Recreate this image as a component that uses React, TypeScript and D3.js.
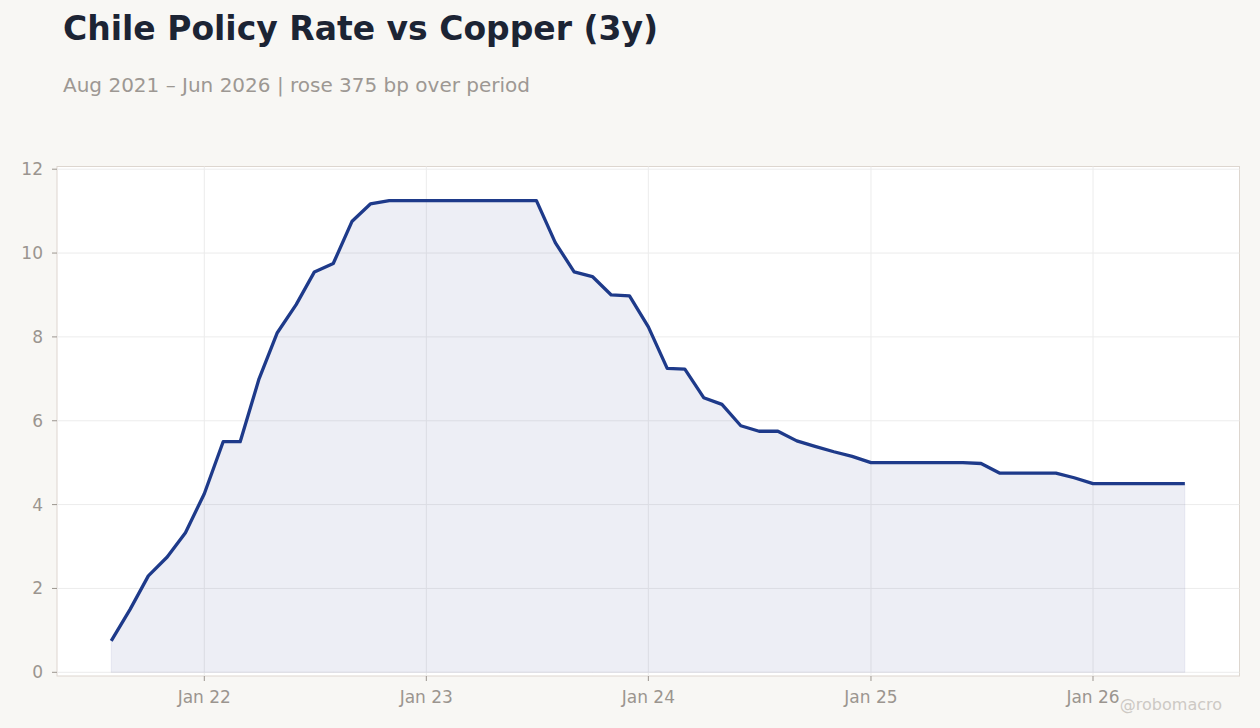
import React from "react";
import * as d3 from "d3";

const months: string[] = [
  "2021-08","2021-09","2021-10","2021-11","2021-12",
  "2022-01","2022-02","2022-03","2022-04","2022-05","2022-06","2022-07","2022-08","2022-09","2022-10","2022-11","2022-12",
  "2023-01","2023-02","2023-03","2023-04","2023-05","2023-06","2023-07","2023-08","2023-09","2023-10","2023-11","2023-12",
  "2024-01","2024-02","2024-03","2024-04","2024-05","2024-06","2024-07","2024-08","2024-09","2024-10","2024-11","2024-12",
  "2025-01","2025-02","2025-03","2025-04","2025-05","2025-06","2025-07","2025-08","2025-09","2025-10","2025-11","2025-12",
  "2026-01","2026-02","2026-03","2026-04","2026-05","2026-06",
];

const policyRate: number[] = [
  0.75, 1.5, 2.3, 2.75, 3.33,
  4.26, 5.5, 5.5, 7.0, 8.1, 8.77, 9.55, 9.75, 10.76, 11.17, 11.25, 11.25,
  11.25, 11.25, 11.25, 11.25, 11.25, 11.25, 11.25, 10.25, 9.55, 9.44, 9.0, 8.98,
  8.24, 7.25, 7.23, 6.55, 6.39, 5.88, 5.75, 5.75, 5.52, 5.39, 5.26, 5.15,
  5.0, 5.0, 5.0, 5.0, 5.0, 5.0, 4.98, 4.75, 4.75, 4.75, 4.75, 4.64,
  4.5, 4.5, 4.5, 4.5, 4.5, 4.5,
];

const yTicks: number[] = [0, 2, 4, 6, 8, 10, 12];
const xTickDates: string[] = ["2022-01", "2023-01", "2024-01", "2025-01", "2026-01"];
const xTickLabels: string[] = ["Jan 22", "Jan 23", "Jan 24", "Jan 25", "Jan 26"];

const TITLE = "Chile Policy Rate vs Copper (3y)";
const SUBTITLE = "Aug 2021 – Jun 2026 | rose 375 bp over period";
const WATERMARK = "@robomacro";

const parse = d3.timeParse("%Y-%m");

export default function App() {
  const W = 1260, H = 728;
  const frame = { left: 57, top: 166.5, right: 1239.5, bottom: 676 };
  const font = "'DejaVu Sans', sans-serif";

  const x = d3
    .scaleTime()
    .domain([parse("2022-01")!, parse("2026-01")!])
    .range([204.3, 1093]);
  const y = d3.scaleLinear().domain([0, 12]).range([672.3, 169.2]);

  const data = months.map((m, i) => ({ d: parse(m)!, v: policyRate[i] }));
  const line = d3
    .line<{ d: Date; v: number }>()
    .x((p) => x(p.d))
    .y((p) => y(p.v));
  const area = d3
    .area<{ d: Date; v: number }>()
    .x((p) => x(p.d))
    .y0(y(0))
    .y1((p) => y(p.v));

  const tickColor = "#9b958f";
  const lineColor = "#1e3a8a";

  return (
    <svg
      width={W}
      height={H}
      style={{ position: "absolute", left: 0, top: 0, display: "block" }}
    >
      <rect x={0} y={0} width={W} height={H} fill="#f8f7f4" />
      <text x={63} y={40} fontFamily={font} fontWeight="bold" fontSize={33} fill="#1c2434">
        {TITLE}
      </text>
      <text x={63} y={92} fontFamily={font} fontSize={20} fill="#9d9893">
        {SUBTITLE}
      </text>

      <rect
        x={frame.left}
        y={frame.top}
        width={frame.right - frame.left}
        height={frame.bottom - frame.top}
        fill="#ffffff"
        stroke="#ddd6cf"
        strokeWidth={1}
      />

      {/* grid */}
      {yTicks.map((t) => (
        <line
          key={"gy" + t}
          x1={frame.left}
          x2={frame.right}
          y1={y(t)}
          y2={y(t)}
          stroke="#ececec"
          strokeWidth={1}
        />
      ))}
      {xTickDates.map((t) => (
        <line
          key={"gx" + t}
          x1={x(parse(t)!)}
          x2={x(parse(t)!)}
          y1={frame.top}
          y2={frame.bottom}
          stroke="#ececec"
          strokeWidth={1}
        />
      ))}

      {/* area + line */}
      <path
        d={area(data) || ""}
        fill="rgb(60,70,140)"
        fillOpacity={0.09}
        stroke="rgb(60,70,140)"
        strokeOpacity={0.08}
        strokeWidth={1}
      />
      <path
        d={line(data) || ""}
        fill="none"
        stroke={lineColor}
        strokeWidth={3.3}
        strokeLinejoin="round"
      />

      {/* y axis ticks */}
      {yTicks.map((t) => (
        <g key={"ty" + t}>
          <line x1={frame.left - 5} x2={frame.left} y1={y(t)} y2={y(t)} stroke={tickColor} strokeWidth={1} />
          <text
            x={43}
            y={y(t)}
            dy="0.35em"
            textAnchor="end"
            fontFamily={font}
            fontSize={17}
            fill={tickColor}
          >
            {t}
          </text>
        </g>
      ))}

      {/* x axis ticks */}
      {xTickDates.map((t, i) => (
        <g key={"tx" + t}>
          <line
            x1={x(parse(t)!)}
            x2={x(parse(t)!)}
            y1={frame.bottom}
            y2={frame.bottom + 5}
            stroke={tickColor}
            strokeWidth={1}
          />
          <text
            x={x(parse(t)!)}
            y={703}
            textAnchor="middle"
            fontFamily={font}
            fontSize={17}
            fill={tickColor}
          >
            {xTickLabels[i]}
          </text>
        </g>
      ))}

      <text x={1222} y={710} textAnchor="end" fontFamily={font} fontSize={16} fill="#cdc9c4">
        {WATERMARK}
      </text>
    </svg>
  );
}
